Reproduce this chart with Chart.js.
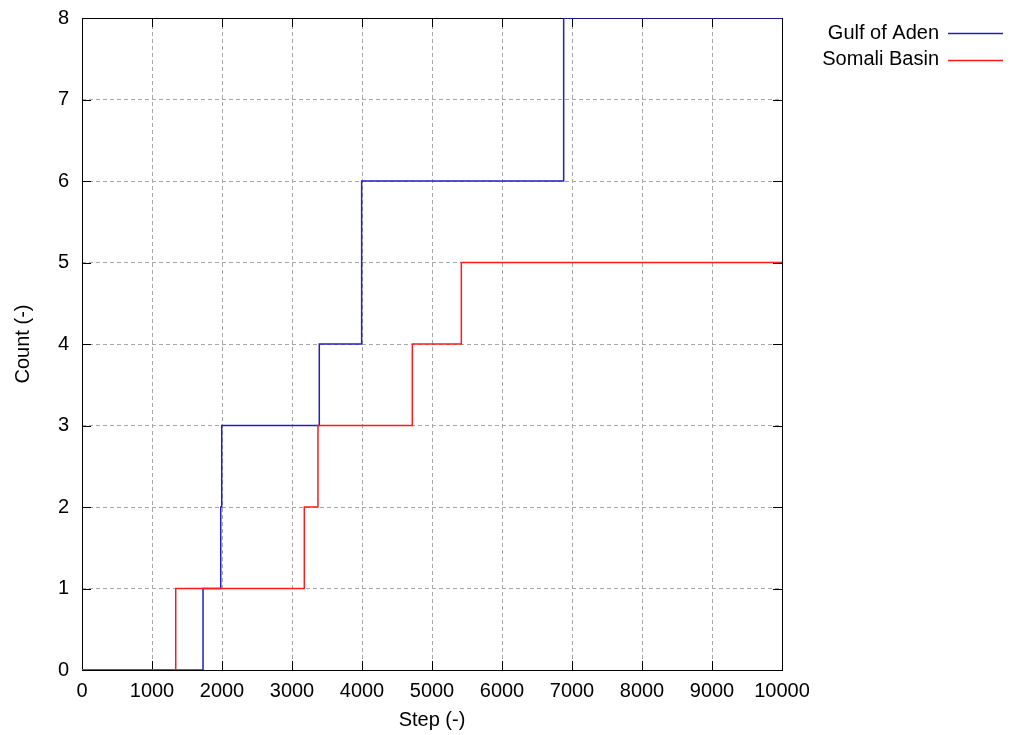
<!DOCTYPE html>
<html>
<head>
<meta charset="utf-8">
<script src="https://cdn.jsdelivr.net/npm/chart.js@4/dist/chart.umd.min.js"></script>
<style>
  body { margin: 0; background: #fff; }
  #wrap { width: 1016px; height: 735px; position: relative; }
</style>
</head>
<body>
<div id="wrap"><canvas id="stepChart"></canvas></div>
<script>
// step change points (x = step, y = count after the change)
const adenX = [0, 1729, 1982, 1996, 3390, 3995, 6881, 10000];
const adenY = [0, 1, 2, 3, 4, 6, 8, 8];
const somaliX = [0, 1339, 3176, 3371, 4719, 5419, 10000];
const somaliY = [0, 1, 2, 3, 4, 5, 5];

const seriesNames = ["Gulf of Aden", "Somali Basin"];
const seriesColors = ["#2020c8", "#ff1a1a"];

const xTicks = [0, 1000, 2000, 3000, 4000, 5000, 6000, 7000, 8000, 9000, 10000];
const yTicks = [0, 1, 2, 3, 4, 5, 6, 7, 8];

const FONT = "Liberation Sans, Arial, Helvetica, sans-serif";
const FSIZE = 20;

const toPoints = (xs, ys) => xs.map((x, i) => ({ x: x, y: ys[i] }));

// box around the plot + inward tick marks on all four sides (gnuplot look)
const frame = {
    id: "frame",
    beforeDatasetsDraw(chart) {
        const { ctx, chartArea: a, scales } = chart;
        const tl = 9;
        ctx.save();
        ctx.strokeStyle = "#000";
        ctx.lineWidth = 1;
        ctx.beginPath();
        xTicks.forEach((v) => {
            const px = Math.round(scales.x.getPixelForValue(v)) + 0.5;
            ctx.moveTo(px, a.bottom); ctx.lineTo(px, a.bottom - tl);
            ctx.moveTo(px, a.top); ctx.lineTo(px, a.top + tl);
        });
        yTicks.forEach((v) => {
            const py = Math.round(scales.y.getPixelForValue(v)) + 0.5;
            ctx.moveTo(a.left, py); ctx.lineTo(a.left + tl, py);
            ctx.moveTo(a.right, py); ctx.lineTo(a.right - tl, py);
        });
        ctx.stroke();
        ctx.strokeRect(Math.round(a.left) + 0.5, Math.round(a.top) + 0.5,
            Math.round(a.right - a.left), Math.round(a.bottom - a.top));
        ctx.restore();
    },
    afterDraw(chart) {
        // key outside the plot: text first, line sample after it
        const { ctx } = chart;
        ctx.save();
        ctx.font = FSIZE + "px " + FONT;
        ctx.textAlign = "right";
        ctx.textBaseline = "middle";
        ctx.fillStyle = "#000";
        seriesNames.forEach((name, i) => {
            const y = 33 + i * 26.5;
            ctx.fillText(name, 939, y);
            ctx.strokeStyle = seriesColors[i];
            ctx.lineWidth = 1.5;
            ctx.beginPath();
            ctx.moveTo(948, Math.round(y) + 0.5);
            ctx.lineTo(1003, Math.round(y) + 0.5);
            ctx.stroke();
        });
        ctx.restore();
    },
};

const ctx = document.getElementById("stepChart").getContext("2d");

new Chart(ctx, {
    type: "line",
    data: {
        datasets: [
            {
                label: seriesNames[1],
                data: toPoints(somaliX, somaliY),
                borderColor: seriesColors[1],
                borderWidth: 1.5,
                stepped: "before",
                pointRadius: 0,
                fill: false,
            },
            {
                label: seriesNames[0],
                data: toPoints(adenX, adenY),
                borderColor: seriesColors[0],
                borderWidth: 1.5,
                stepped: "before",
                pointRadius: 0,
                fill: false,
            },
        ],
    },
    options: {
        responsive: true,
        maintainAspectRatio: false,
        animation: false,
        layout: { padding: { left: 0, right: 234, top: 18, bottom: 0 } },
        plugins: {
            legend: { display: false },
            tooltip: { enabled: false },
        },
        scales: {
            x: {
                type: "linear",
                min: 0,
                max: 10000,
                afterBuildTicks: (scale) => { scale.ticks = xTicks.map((v) => ({ value: v })); },
                afterFit: (scale) => {
                    scale.height = 65;
                    scale.paddingLeft = 0;
                    scale.paddingRight = 0;
                },
                grid: { color: "#a8a8a8", lineWidth: 1, drawTicks: false },
                border: { display: false, dash: [4, 3] },
                ticks: {
                    color: "#000",
                    padding: 9,
                    maxRotation: 0,
                    autoSkip: false,
                    callback: (v) => String(v),
                    font: { family: FONT, size: FSIZE },
                },
                title: {
                    display: true,
                    text: "Step (-)",
                    color: "#000",
                    padding: { top: 0, bottom: 3 },
                    font: { family: FONT, size: FSIZE },
                },
            },
            y: {
                type: "linear",
                min: 0,
                max: 8,
                afterBuildTicks: (scale) => { scale.ticks = yTicks.map((v) => ({ value: v })); },
                afterFit: (scale) => {
                    scale.width = 82;
                    scale.paddingTop = 0;
                    scale.paddingBottom = 0;
                },
                grid: { color: "#a8a8a8", lineWidth: 1, drawTicks: false },
                border: { display: false, dash: [4, 3] },
                ticks: {
                    color: "#000",
                    padding: 13,
                    callback: (v) => String(v),
                    font: { family: FONT, size: FSIZE },
                },
                title: {
                    display: true,
                    text: "Count (-)",
                    color: "#000",
                    padding: { top: 11, bottom: 0 },
                    font: { family: FONT, size: FSIZE },
                },
            },
        },
    },
    plugins: [frame],
});
</script>
</body>
</html>
